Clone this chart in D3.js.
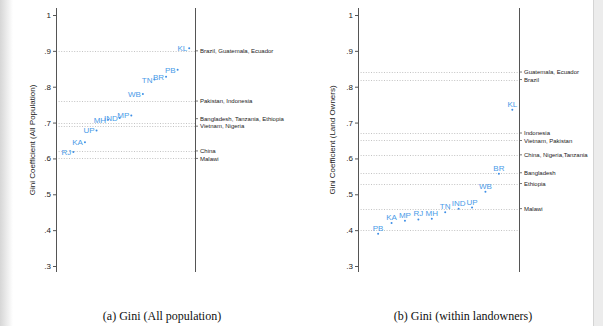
<!DOCTYPE html>
<html>
<head>
<meta charset="utf-8">
<script src="https://cdn.jsdelivr.net/npm/d3@7"></script>
<style>
  body { margin: 0; background: #fff; }
  svg { display: block; }
</style>
</head>
<body>
<div id="content"></div>
<script>
// states sorted by their Gini, one array per panel
var statesAll = ['RJ', 'KA', 'UP', 'MH', 'IND', 'MP', 'WB', 'TN', 'BR', 'PB', 'KL'];
var giniAll = [0.618, 0.645, 0.678, 0.708, 0.713, 0.72, 0.78, 0.82, 0.828, 0.847, 0.907];
var statesLand = ['PB', 'KA', 'MP', 'RJ', 'MH', 'TN', 'IND', 'UP', 'WB', 'BR', 'KL'];
var giniLand = [0.39, 0.42, 0.426, 0.43, 0.432, 0.45, 0.46, 0.463, 0.507, 0.557, 0.736];

// country reference lines
var countriesAll = ['Brazil, Guatemala, Ecuador', 'Pakistan, Indonesia', 'Bangladesh, Tanzania, Ethiopia',
    'Vietnam, Nigeria', 'China', 'Malawi'];
var countryGiniAll = [0.90, 0.76, 0.70, 0.69, 0.62, 0.60];
var countriesLand = ['Guatemala, Ecuador', 'Brazil', 'Indonesia', 'Vietnam, Pakistan',
    'China, Nigeria,Tanzania', 'Bangladesh', 'Ethiopia', 'Malawi', ''];
var countryGiniLand = [0.84, 0.82, 0.67, 0.65, 0.61, 0.56, 0.53, 0.46, 0.40];

var yTicks = [1, 0.9, 0.8, 0.7, 0.6, 0.5, 0.4, 0.3];
var yTickLabels = ['1', '.9', '.8', '.7', '.6', '.5', '.4', '.3'];

var W = 603, H = 326;
var svg = d3.select('#content').append('svg')
    .attr('width', W)
    .attr('height', H);

// page edges
var defs = svg.append('defs');
var grad = defs.append('linearGradient').attr('id', 'edge');
grad.append('stop').attr('offset', '0%').attr('stop-color', '#d6d6d6');
grad.append('stop').attr('offset', '100%').attr('stop-color', '#ffffff');
svg.append('rect').attr('x', 0).attr('y', 0).attr('width', 13).attr('height', H).attr('fill', 'url(#edge)');
svg.append('rect').attr('x', 593).attr('y', 0).attr('width', 10).attr('height', H).attr('fill', '#ececec');
svg.append('line').attr('x1', 593.5).attr('x2', 593.5).attr('y1', 0).attr('y2', H)
    .attr('stroke', '#d4d4d4');

var y = d3.scaleLinear().domain([0.3, 1]).range([266, 15]);

function panel(opts) {
    var g = svg.append('g');
    var x = d3.scaleLinear().domain([-0.5, 11.5]).range([opts.left, opts.right]);

    // reference lines
    g.selectAll('line.ref').data(opts.refVals).enter()
        .append('line')
        .attr('x1', opts.left).attr('x2', opts.right)
        .attr('y1', function(d) { return Math.round(y(d)) + 0.5; })
        .attr('y2', function(d) { return Math.round(y(d)) + 0.5; })
        .attr('stroke', '#b4b4b4')
        .attr('stroke-width', 0.8)
        .attr('stroke-dasharray', '1,1.6');

    // y axis
    var axis = d3.axisLeft(y).tickValues(yTicks).tickSize(3).tickPadding(2)
        .tickFormat(function(d, i) { return yTickLabels[i]; });
    var ga = g.append('g').attr('transform', 'translate(' + opts.left + ',0)').call(axis);
    ga.select('.domain').remove();
    ga.selectAll('.tick line').attr('stroke', '#555');
    ga.selectAll('.tick text').attr('font-family', 'Liberation Sans, Arial, sans-serif')
        .attr('font-size', 8).attr('fill', '#222');
    g.append('line').attr('x1', opts.left + 0.5).attr('x2', opts.left + 0.5)
        .attr('y1', 8).attr('y2', 272).attr('stroke', '#555');
    g.append('line').attr('x1', opts.right + 0.5).attr('x2', opts.right + 0.5)
        .attr('y1', 8).attr('y2', 272).attr('stroke', '#555');

    // right-hand country labels, spread so they do not overlap
    var labs = opts.refVals.map(function(v, i) { return { v: v, t: opts.refNames[i], yy: y(v) }; })
        .filter(function(d) { return d.t !== ''; });
    labs.sort(function(a, b) { return b.yy - a.yy; });
    for (var i = 1; i < labs.length; i++) {
        if (labs[i - 1].yy - labs[i].yy < 7.5) labs[i].yy = labs[i - 1].yy - 7.5;
    }
    g.selectAll('line.rtick').data(labs).enter()
        .append('line')
        .attr('x1', opts.right).attr('x2', opts.right + 3)
        .attr('y1', function(d) { return d.yy; }).attr('y2', function(d) { return d.yy; })
        .attr('stroke', '#555').attr('stroke-width', 0.8);
    g.selectAll('text.rlab').data(labs).enter()
        .append('text')
        .attr('x', opts.right + 5)
        .attr('y', function(d) { return d.yy + 2.2; })
        .attr('font-family', 'Liberation Sans, Arial, sans-serif')
        .attr('font-size', 6)
        .attr('fill', '#222')
        .text(function(d) { return d.t; });

    // state points
    var pts = opts.vals.map(function(v, i) { return { v: v, s: opts.states[i], i: i }; });
    g.selectAll('circle').data(pts).enter()
        .append('circle')
        .attr('cx', function(d) { return x(d.i + 1); })
        .attr('cy', function(d) { return y(d.v); })
        .attr('r', 1)
        .attr('fill', '#3d8ee6');
    g.selectAll('text.pl').data(pts).enter()
        .append('text')
        .attr('x', function(d) { return opts.above ? x(d.i + 1) : x(d.i + 1) - 2; })
        .attr('y', function(d) { return opts.above ? y(d.v) - 3 : y(d.v) + 3; })
        .attr('text-anchor', opts.above ? 'middle' : 'end')
        .attr('font-family', 'Liberation Sans, Arial, sans-serif')
        .attr('font-size', 8)
        .attr('fill', '#4a9be8')
        .text(function(d) { return d.s; });

    // axis title
    g.append('text')
        .attr('transform', 'translate(' + opts.titleX + ',140) rotate(-90)')
        .attr('text-anchor', 'middle')
        .attr('font-family', 'Liberation Sans, Arial, sans-serif')
        .attr('font-size', 8)
        .attr('fill', '#222')
        .text(opts.title);

    // caption
    svg.append('text')
        .attr('x', opts.capX).attr('y', 320)
        .attr('text-anchor', 'middle')
        .attr('font-family', 'Liberation Serif, Times New Roman, serif')
        .attr('font-size', 12)
        .attr('fill', '#111')
        .text(opts.caption);
}

panel({
    left: 56, right: 195, states: statesAll, vals: giniAll,
    refVals: countryGiniAll, refNames: countriesAll, above: false,
    title: 'Gini Coefficient (All Population)', titleX: 35,
    caption: '(a) Gini (All population)', capX: 162
});
panel({
    left: 358, right: 519, states: statesLand, vals: giniLand,
    refVals: countryGiniLand, refNames: countriesLand, above: true,
    title: 'Gini Coefficient (Land Owners)', titleX: 335,
    caption: '(b) Gini (within landowners)', capX: 463
});
</script>
</body>
</html>
